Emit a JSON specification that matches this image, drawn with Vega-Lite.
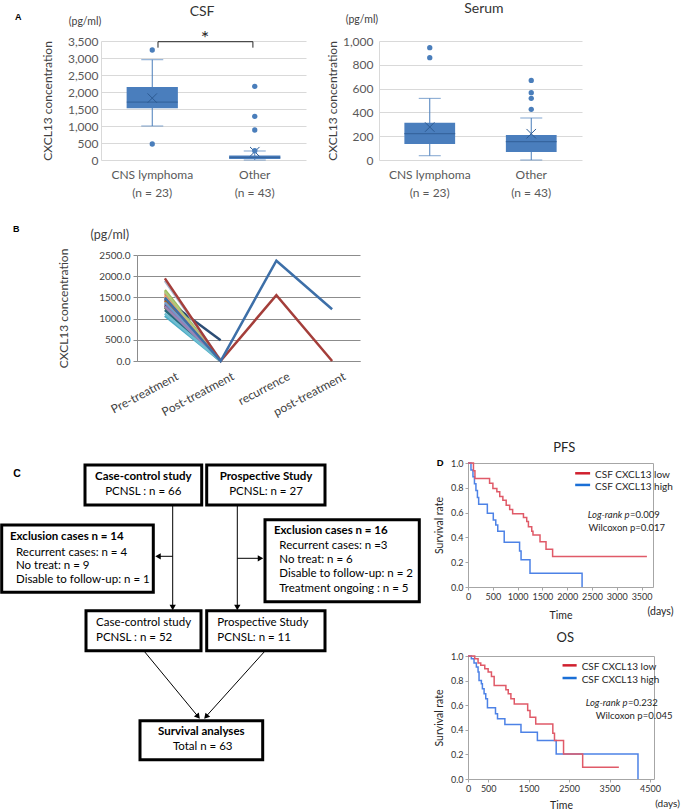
{
  "$schema": "https://vega.github.io/schema/vega-lite/v6.json",
  "padding": {"left": 0, "top": 1, "right": 0, "bottom": 0},
  "config": {
    "view": {"stroke": null},
    "font": "Lato",
    "axis": {"labelFont": "Lato", "titleFont": "Lato", "titleFontWeight": "normal"}
  },
  "datasets": {
    "csf_stats": [
      {"group": "CNS lymphoma", "lo": 1000, "q1": 1520, "median": 1700, "q3": 2150, "hi": 2950, "mean": 1820},
      {"group": "Other", "lo": 0, "q1": 30, "median": 80, "q3": 130, "hi": 265, "mean": 245}
    ],
    "csf_out": [
      {"group": "CNS lymphoma", "value": 3235},
      {"group": "CNS lymphoma", "value": 470},
      {"group": "Other", "value": 2167},
      {"group": "Other", "value": 1284},
      {"group": "Other", "value": 882},
      {"group": "Other", "value": 275}
    ],
    "serum_stats": [
      {"group": "CNS lymphoma", "lo": 36, "q1": 134, "median": 221, "q3": 314, "hi": 518, "mean": 277},
      {"group": "Other", "lo": 0, "q1": 67, "median": 154, "q3": 210, "hi": 353, "mean": 221}
    ],
    "serum_out": [
      {"group": "CNS lymphoma", "value": 944},
      {"group": "CNS lymphoma", "value": 860},
      {"group": "Other", "value": 669},
      {"group": "Other", "value": 566},
      {"group": "Other", "value": 518},
      {"group": "Other", "value": 426}
    ],
    "course": [
      {"patient": "P03", "time": "Pre-treatment", "value": 1672}, {"patient": "P03", "time": "Post-treatment", "value": 10},
      {"patient": "P04", "time": "Pre-treatment", "value": 1459}, {"patient": "P04", "time": "Post-treatment", "value": 5},
      {"patient": "P05", "time": "Pre-treatment", "value": 1065}, {"patient": "P05", "time": "Post-treatment", "value": 0},
      {"patient": "P06", "time": "Pre-treatment", "value": 1553}, {"patient": "P06", "time": "Post-treatment", "value": 15},
      {"patient": "P07", "time": "Pre-treatment", "value": 1460}, {"patient": "P07", "time": "Post-treatment", "value": 490},
      {"patient": "P08", "time": "Pre-treatment", "value": 1300}, {"patient": "P08", "time": "Post-treatment", "value": 5},
      {"patient": "P09", "time": "Pre-treatment", "value": 1262}, {"patient": "P09", "time": "Post-treatment", "value": 0},
      {"patient": "P10", "time": "Pre-treatment", "value": 1341}, {"patient": "P10", "time": "Post-treatment", "value": 10},
      {"patient": "P11", "time": "Pre-treatment", "value": 1200}, {"patient": "P11", "time": "Post-treatment", "value": 0},
      {"patient": "P12", "time": "Pre-treatment", "value": 1420}, {"patient": "P12", "time": "Post-treatment", "value": 20},
      {"patient": "P13", "time": "Pre-treatment", "value": 1380}, {"patient": "P13", "time": "Post-treatment", "value": 5},
      {"patient": "P14", "time": "Pre-treatment", "value": 1600}, {"patient": "P14", "time": "Post-treatment", "value": 10},
      {"patient": "P15", "time": "Pre-treatment", "value": 1632}, {"patient": "P15", "time": "Post-treatment", "value": 0},
      {"patient": "P16", "time": "Pre-treatment", "value": 1285}, {"patient": "P16", "time": "Post-treatment", "value": 15},
      {"patient": "P17", "time": "Pre-treatment", "value": 1120}, {"patient": "P17", "time": "Post-treatment", "value": 0},
      {"patient": "P18", "time": "Pre-treatment", "value": 1522}, {"patient": "P18", "time": "Post-treatment", "value": 5},
      {"patient": "P19", "time": "Pre-treatment", "value": 1890}, {"patient": "P19", "time": "Post-treatment", "value": 20},
      {"patient": "P02", "time": "Pre-treatment", "value": 1948}, {"patient": "P02", "time": "Post-treatment", "value": 0},
      {"patient": "P02", "time": "recurrence", "value": 1554}, {"patient": "P02", "time": "post-treatment", "value": 0},
      {"patient": "P01", "time": "Pre-treatment", "value": 1498}, {"patient": "P01", "time": "Post-treatment", "value": 0},
      {"patient": "P01", "time": "recurrence", "value": 2366}, {"patient": "P01", "time": "post-treatment", "value": 1222}
    ],
    "flow_boxes": [
      {"x1": 85, "x2": 201.7, "y1": 466, "y2": 506},
      {"x1": 206.7, "x2": 325, "y1": 466, "y2": 506},
      {"x1": 1.7, "x2": 153.3, "y1": 526, "y2": 593.3},
      {"x1": 265, "x2": 419.3, "y1": 520.7, "y2": 602.7},
      {"x1": 86, "x2": 201, "y1": 611.7, "y2": 651.7},
      {"x1": 206.7, "x2": 325, "y1": 611.7, "y2": 651.7},
      {"x1": 140, "x2": 262.7, "y1": 721.7, "y2": 760.7}
    ],
    "flow_lines": [
      {"x": 172.7, "y": 506, "x2": 172.7, "y2": 608},
      {"x": 237.3, "y": 506, "x2": 237.3, "y2": 608},
      {"x": 172.7, "y": 557.3, "x2": 158, "y2": 557.3},
      {"x": 237.3, "y": 559.3, "x2": 260, "y2": 559.3},
      {"x": 144, "y": 652, "x2": 198, "y2": 717.5},
      {"x": 265, "y": 652, "x2": 206, "y2": 717.5}
    ],
    "flow_heads": [
      {"x": 172.7, "y": 608.5, "tilt": 0},
      {"x": 237.3, "y": 608.5, "tilt": 0},
      {"x": 158, "y": 557.3, "tilt": 90},
      {"x": 260.5, "y": 559.3, "tilt": 270},
      {"x": 198.1, "y": 717.7, "tilt": 320.4},
      {"x": 206, "y": 717.8, "tilt": 41.9}
    ],
    "flow_bold_c": [
      {"x": 143.3, "y": 478.3, "t": "Case-control study"},
      {"x": 266, "y": 478.3, "t": "Prospective Study"},
      {"x": 201.3, "y": 733.3, "t": "Survival analyses"}
    ],
    "flow_reg_c": [
      {"x": 143.3, "y": 492.7, "t": "PCNSL : n = 66"},
      {"x": 266, "y": 492.7, "t": "PCNSL: n = 27"},
      {"x": 202.7, "y": 748.3, "t": "Total  n = 63"}
    ],
    "flow_bold_l": [
      {"x": 10, "y": 537.7, "t": "Exclusion cases  n = 14"},
      {"x": 274, "y": 532.3, "t": "Exclusion cases  n = 16"}
    ],
    "flow_reg_l": [
      {"x": 16, "y": 554, "t": "Recurrent cases: n = 4"},
      {"x": 16, "y": 566.7, "t": "No treat: n = 9"},
      {"x": 16, "y": 580.7, "t": "Disable to follow-up: n = 1"},
      {"x": 279.3, "y": 546.7, "t": "Recurrent cases: n =3"},
      {"x": 279.3, "y": 561, "t": "No treat: n = 6"},
      {"x": 279.3, "y": 575, "t": "Disable to follow-up: n = 2"},
      {"x": 279.3, "y": 590, "t": "Treatment ongoing : n = 5"},
      {"x": 96, "y": 624, "t": "Case-control study"},
      {"x": 96, "y": 639, "t": "PCNSL : n = 52"},
      {"x": 217.3, "y": 624, "t": "Prospective Study"},
      {"x": 217.3, "y": 639, "t": "PCNSL:  n = 11"}
    ],
    "pfs_high": [
      {"group": "CSF CXCL13 high", "days": 0, "surv": 1.0},
      {"group": "CSF CXCL13 high", "days": 60, "surv": 0.944},
      {"group": "CSF CXCL13 high", "days": 100, "surv": 0.889},
      {"group": "CSF CXCL13 high", "days": 130, "surv": 0.833},
      {"group": "CSF CXCL13 high", "days": 160, "surv": 0.778},
      {"group": "CSF CXCL13 high", "days": 190, "surv": 0.722},
      {"group": "CSF CXCL13 high", "days": 215, "surv": 0.667},
      {"group": "CSF CXCL13 high", "days": 390, "surv": 0.595},
      {"group": "CSF CXCL13 high", "days": 510, "surv": 0.54},
      {"group": "CSF CXCL13 high", "days": 560, "surv": 0.5},
      {"group": "CSF CXCL13 high", "days": 600, "surv": 0.45},
      {"group": "CSF CXCL13 high", "days": 730, "surv": 0.36},
      {"group": "CSF CXCL13 high", "days": 1040, "surv": 0.29},
      {"group": "CSF CXCL13 high", "days": 1070, "surv": 0.22},
      {"group": "CSF CXCL13 high", "days": 1250, "surv": 0.11},
      {"group": "CSF CXCL13 high", "days": 2300, "surv": 0.0}
    ],
    "pfs_low": [
      {"group": "CSF CXCL13 low", "days": 0, "surv": 1.0},
      {"group": "CSF CXCL13 low", "days": 110, "surv": 0.938},
      {"group": "CSF CXCL13 low", "days": 140, "surv": 0.876},
      {"group": "CSF CXCL13 low", "days": 435, "surv": 0.836},
      {"group": "CSF CXCL13 low", "days": 502, "surv": 0.795},
      {"group": "CSF CXCL13 low", "days": 582, "surv": 0.768},
      {"group": "CSF CXCL13 low", "days": 640, "surv": 0.73},
      {"group": "CSF CXCL13 low", "days": 703, "surv": 0.7},
      {"group": "CSF CXCL13 low", "days": 770, "surv": 0.66},
      {"group": "CSF CXCL13 low", "days": 840, "surv": 0.625},
      {"group": "CSF CXCL13 low", "days": 900, "surv": 0.59},
      {"group": "CSF CXCL13 low", "days": 1118, "surv": 0.56},
      {"group": "CSF CXCL13 low", "days": 1184, "surv": 0.528},
      {"group": "CSF CXCL13 low", "days": 1218, "surv": 0.485},
      {"group": "CSF CXCL13 low", "days": 1285, "surv": 0.45},
      {"group": "CSF CXCL13 low", "days": 1310, "surv": 0.42},
      {"group": "CSF CXCL13 low", "days": 1452, "surv": 0.364},
      {"group": "CSF CXCL13 low", "days": 1573, "surv": 0.305},
      {"group": "CSF CXCL13 low", "days": 1706, "surv": 0.245},
      {"group": "CSF CXCL13 low", "days": 3607, "surv": 0.245}
    ],
    "os_high": [
      {"group": "CSF CXCL13 high", "days": 0, "surv": 1.0},
      {"group": "CSF CXCL13 high", "days": 83, "surv": 0.978},
      {"group": "CSF CXCL13 high", "days": 149, "surv": 0.943},
      {"group": "CSF CXCL13 high", "days": 207, "surv": 0.91},
      {"group": "CSF CXCL13 high", "days": 249, "surv": 0.87},
      {"group": "CSF CXCL13 high", "days": 273, "surv": 0.8},
      {"group": "CSF CXCL13 high", "days": 331, "surv": 0.774},
      {"group": "CSF CXCL13 high", "days": 356, "surv": 0.734},
      {"group": "CSF CXCL13 high", "days": 398, "surv": 0.693},
      {"group": "CSF CXCL13 high", "days": 439, "surv": 0.652},
      {"group": "CSF CXCL13 high", "days": 481, "surv": 0.579},
      {"group": "CSF CXCL13 high", "days": 680, "surv": 0.53},
      {"group": "CSF CXCL13 high", "days": 730, "surv": 0.49},
      {"group": "CSF CXCL13 high", "days": 912, "surv": 0.443},
      {"group": "CSF CXCL13 high", "days": 1310, "surv": 0.38},
      {"group": "CSF CXCL13 high", "days": 1716, "surv": 0.3125},
      {"group": "CSF CXCL13 high", "days": 2181, "surv": 0.204},
      {"group": "CSF CXCL13 high", "days": 4204, "surv": 0.0}
    ],
    "os_low": [
      {"group": "CSF CXCL13 low", "days": 0, "surv": 1.0},
      {"group": "CSF CXCL13 low", "days": 166, "surv": 0.978},
      {"group": "CSF CXCL13 low", "days": 249, "surv": 0.943},
      {"group": "CSF CXCL13 low", "days": 315, "surv": 0.924},
      {"group": "CSF CXCL13 low", "days": 415, "surv": 0.897},
      {"group": "CSF CXCL13 low", "days": 498, "surv": 0.87},
      {"group": "CSF CXCL13 low", "days": 580, "surv": 0.834},
      {"group": "CSF CXCL13 low", "days": 647, "surv": 0.76},
      {"group": "CSF CXCL13 low", "days": 937, "surv": 0.726},
      {"group": "CSF CXCL13 low", "days": 995, "surv": 0.693},
      {"group": "CSF CXCL13 low", "days": 1061, "surv": 0.652},
      {"group": "CSF CXCL13 low", "days": 1144, "surv": 0.61},
      {"group": "CSF CXCL13 low", "days": 1476, "surv": 0.557},
      {"group": "CSF CXCL13 low", "days": 1534, "surv": 0.503},
      {"group": "CSF CXCL13 low", "days": 1675, "surv": 0.448},
      {"group": "CSF CXCL13 low", "days": 2098, "surv": 0.372},
      {"group": "CSF CXCL13 low", "days": 2139, "surv": 0.3125},
      {"group": "CSF CXCL13 low", "days": 2363, "surv": 0.204},
      {"group": "CSF CXCL13 low", "days": 2836, "surv": 0.095},
      {"group": "CSF CXCL13 low", "days": 3731, "surv": 0.095}
    ]
  },
  "vconcat": [
    {
      "vconcat": [
        {
          "hconcat": [
            {"width": 1, "height": 1, "data": {"values": [{}]}, "mark": {"type": "point", "opacity": 0, "size": 0, "strokeWidth": 0}},
            {
              "hconcat": [
                {
                  "width": 205, "height": 119,
                  "resolve": {"scale": {"x": "independent", "y": "independent"}},
                  "layer": [
                    {"data": {"name": "csf_stats"}, "mark": {"type": "rule", "color": "#4a7ebb", "strokeWidth": 1},
                     "encoding": {
                       "x": {"field": "group", "type": "nominal", "scale": {"domain": ["CNS lymphoma", "Other"], "paddingInner": 0, "paddingOuter": 0},
                         "axis": {"title": null, "domain": false, "ticks": false, "labelAngle": 0, "labelFontSize": 12, "labelColor": "#595959", "labelPadding": 9, "labelLineHeight": 18,
                           "labelExpr": "datum.value == 'CNS lymphoma' ? ['CNS lymphoma', '(n = 23)'] : ['Other', '(n = 43)']"}},
                       "y": {"field": "lo", "type": "quantitative", "scale": {"domain": [0, 3500], "nice": false},
                         "axis": {"title": "CXCL13 concentration", "titleFontSize": 12, "titleColor": "#404040", "titlePadding": 13, "values": [0, 500, 1000, 1500, 2000, 2500, 3000, 3500], "format": ",.0f", "labelFontSize": 12, "labelColor": "#595959", "labelPadding": 3, "ticks": false, "domain": true, "domainColor": "#d9d9d9", "grid": true, "gridColor": "#d9d9d9"}},
                       "y2": {"field": "hi"}}},
                    {"data": {"name": "csf_stats"}, "mark": {"type": "tick", "orient": "horizontal", "size": 22, "thickness": 1, "color": "#4a7ebb"},
                     "encoding": {
                       "x": {"field": "group", "type": "nominal", "scale": {"domain": ["CNS lymphoma", "Other"], "paddingInner": 0, "paddingOuter": 0}, "axis": null},
                       "y": {"field": "hi", "type": "quantitative", "scale": {"domain": [0, 3500], "nice": false}, "axis": null}}},
                    {"data": {"name": "csf_stats"}, "mark": {"type": "tick", "orient": "horizontal", "size": 22, "thickness": 1, "color": "#4a7ebb"},
                     "encoding": {
                       "x": {"field": "group", "type": "nominal", "scale": {"domain": ["CNS lymphoma", "Other"], "paddingInner": 0, "paddingOuter": 0}, "axis": null},
                       "y": {"field": "lo", "type": "quantitative", "scale": {"domain": [0, 3500], "nice": false}, "axis": null}}},
                    {"data": {"name": "csf_stats"}, "mark": {"type": "bar", "width": {"band": 0.5}, "color": "#4a7ebd"},
                     "encoding": {
                       "x": {"field": "group", "type": "nominal", "scale": {"domain": ["CNS lymphoma", "Other"], "paddingInner": 0, "paddingOuter": 0}, "axis": null},
                       "y": {"field": "q1", "type": "quantitative", "scale": {"domain": [0, 3500], "nice": false}, "axis": null}, "y2": {"field": "q3"}}},
                    {"data": {"name": "csf_stats"}, "mark": {"type": "tick", "orient": "horizontal", "size": 51, "thickness": 1.2, "color": "#2d5b93"},
                     "encoding": {
                       "x": {"field": "group", "type": "nominal", "scale": {"domain": ["CNS lymphoma", "Other"], "paddingInner": 0, "paddingOuter": 0}, "axis": null},
                       "y": {"field": "median", "type": "quantitative", "scale": {"domain": [0, 3500], "nice": false}, "axis": null}}},
                    {"data": {"name": "csf_stats"}, "mark": {"type": "point", "shape": "M-1,-1L1,1M-1,1L1,-1", "filled": false, "size": 90, "color": "#2d5b93", "strokeWidth": 1, "opacity": 1},
                     "encoding": {
                       "x": {"field": "group", "type": "nominal", "scale": {"domain": ["CNS lymphoma", "Other"], "paddingInner": 0, "paddingOuter": 0}, "axis": null},
                       "y": {"field": "mean", "type": "quantitative", "scale": {"domain": [0, 3500], "nice": false}, "axis": null}}},
                    {"data": {"name": "csf_out"}, "mark": {"type": "circle", "size": 28, "color": "#4a7ebb", "opacity": 1},
                     "encoding": {
                       "x": {"field": "group", "type": "nominal", "scale": {"domain": ["CNS lymphoma", "Other"], "paddingInner": 0, "paddingOuter": 0}, "axis": null},
                       "y": {"field": "value", "type": "quantitative", "scale": {"domain": [0, 3500], "nice": false}, "axis": null}}},
                    {
                      "data": {"values": [{}]},
                      "layer": [
                        {"mark": {"type": "text", "text": "A", "font": "Liberation Sans", "fontWeight": "bold", "fontSize": 9, "align": "left", "baseline": "middle", "color": "#000000"},
                         "encoding": {"x": {"datum": -0.42, "type": "quantitative", "scale": {"domain": [0, 1]}, "axis": null}, "y": {"datum": 1.202, "type": "quantitative", "scale": {"domain": [0, 1]}, "axis": null}}},
                        {"mark": {"type": "text", "text": "(pg/ml)", "fontSize": 10.5, "align": "center", "baseline": "middle", "color": "#404040"},
                         "encoding": {"x": {"datum": -0.078, "type": "quantitative", "scale": {"domain": [0, 1]}, "axis": null}, "y": {"datum": 1.16, "type": "quantitative", "scale": {"domain": [0, 1]}, "axis": null}}},
                        {"mark": {"type": "text", "text": "CSF", "fontSize": 14, "align": "center", "baseline": "middle", "color": "#333333"},
                         "encoding": {"x": {"datum": 0.493, "type": "quantitative", "scale": {"domain": [0, 1]}, "axis": null}, "y": {"datum": 1.244, "type": "quantitative", "scale": {"domain": [0, 1]}, "axis": null}}},
                        {"mark": {"type": "text", "text": "*", "fontSize": 20, "align": "center", "baseline": "alphabetic", "color": "#262626"},
                         "encoding": {"x": {"datum": 0.507, "type": "quantitative", "scale": {"domain": [0, 1]}, "axis": null}, "y": {"datum": 0.963, "type": "quantitative", "scale": {"domain": [0, 1]}, "axis": null}}},
                        {"mark": {"type": "rule", "color": "#262626", "strokeWidth": 1},
                         "encoding": {"x": {"datum": 0.278, "type": "quantitative", "scale": {"domain": [0, 1]}, "axis": null}, "x2": {"datum": 0.741}, "y": {"datum": 0.994, "type": "quantitative", "scale": {"domain": [0, 1]}, "axis": null}}},
                        {"mark": {"type": "rule", "color": "#262626", "strokeWidth": 1},
                         "encoding": {"x": {"datum": 0.278, "type": "quantitative", "scale": {"domain": [0, 1]}, "axis": null}, "y": {"datum": 0.994, "type": "quantitative", "scale": {"domain": [0, 1]}, "axis": null}, "y2": {"datum": 0.944}}},
                        {"mark": {"type": "rule", "color": "#262626", "strokeWidth": 1},
                         "encoding": {"x": {"datum": 0.741, "type": "quantitative", "scale": {"domain": [0, 1]}, "axis": null}, "y": {"datum": 0.994, "type": "quantitative", "scale": {"domain": [0, 1]}, "axis": null}, "y2": {"datum": 0.944}}}
                      ]
                    }
                  ]
                },
                {
                  "width": 203, "height": 119,
                  "resolve": {"scale": {"x": "independent", "y": "independent"}},
                  "layer": [
                    {"data": {"name": "serum_stats"}, "mark": {"type": "rule", "color": "#4a7ebb", "strokeWidth": 1},
                     "encoding": {
                       "x": {"field": "group", "type": "nominal", "scale": {"domain": ["CNS lymphoma", "Other"], "paddingInner": 0, "paddingOuter": 0},
                         "axis": {"title": null, "domain": false, "ticks": false, "labelAngle": 0, "labelFontSize": 12, "labelColor": "#595959", "labelPadding": 9, "labelLineHeight": 18,
                           "labelExpr": "datum.value == 'CNS lymphoma' ? ['CNS lymphoma', '(n = 23)'] : ['Other', '(n = 43)']"}},
                       "y": {"field": "lo", "type": "quantitative", "scale": {"domain": [0, 1000], "nice": false},
                         "axis": {"title": "CXCL13 concentration", "titleFontSize": 12, "titleColor": "#404040", "titlePadding": 3, "values": [0, 200, 400, 600, 800, 1000], "format": ",.0f", "labelFontSize": 12, "labelColor": "#595959", "labelPadding": 6, "ticks": false, "domain": true, "domainColor": "#d9d9d9", "grid": true, "gridColor": "#d9d9d9"}},
                       "y2": {"field": "hi"}}},
                    {"data": {"name": "serum_stats"}, "mark": {"type": "tick", "orient": "horizontal", "size": 22, "thickness": 1, "color": "#4a7ebb"},
                     "encoding": {
                       "x": {"field": "group", "type": "nominal", "scale": {"domain": ["CNS lymphoma", "Other"], "paddingInner": 0, "paddingOuter": 0}, "axis": null},
                       "y": {"field": "hi", "type": "quantitative", "scale": {"domain": [0, 1000], "nice": false}, "axis": null}}},
                    {"data": {"name": "serum_stats"}, "mark": {"type": "tick", "orient": "horizontal", "size": 22, "thickness": 1, "color": "#4a7ebb"},
                     "encoding": {
                       "x": {"field": "group", "type": "nominal", "scale": {"domain": ["CNS lymphoma", "Other"], "paddingInner": 0, "paddingOuter": 0}, "axis": null},
                       "y": {"field": "lo", "type": "quantitative", "scale": {"domain": [0, 1000], "nice": false}, "axis": null}}},
                    {"data": {"name": "serum_stats"}, "mark": {"type": "bar", "width": {"band": 0.5}, "color": "#4a7ebd"},
                     "encoding": {
                       "x": {"field": "group", "type": "nominal", "scale": {"domain": ["CNS lymphoma", "Other"], "paddingInner": 0, "paddingOuter": 0}, "axis": null},
                       "y": {"field": "q1", "type": "quantitative", "scale": {"domain": [0, 1000], "nice": false}, "axis": null}, "y2": {"field": "q3"}}},
                    {"data": {"name": "serum_stats"}, "mark": {"type": "tick", "orient": "horizontal", "size": 51, "thickness": 1.2, "color": "#2d5b93"},
                     "encoding": {
                       "x": {"field": "group", "type": "nominal", "scale": {"domain": ["CNS lymphoma", "Other"], "paddingInner": 0, "paddingOuter": 0}, "axis": null},
                       "y": {"field": "median", "type": "quantitative", "scale": {"domain": [0, 1000], "nice": false}, "axis": null}}},
                    {"data": {"name": "serum_stats"}, "mark": {"type": "point", "shape": "M-1,-1L1,1M-1,1L1,-1", "filled": false, "size": 90, "color": "#2d5b93", "strokeWidth": 1, "opacity": 1},
                     "encoding": {
                       "x": {"field": "group", "type": "nominal", "scale": {"domain": ["CNS lymphoma", "Other"], "paddingInner": 0, "paddingOuter": 0}, "axis": null},
                       "y": {"field": "mean", "type": "quantitative", "scale": {"domain": [0, 1000], "nice": false}, "axis": null}}},
                    {"data": {"name": "serum_out"}, "mark": {"type": "circle", "size": 28, "color": "#4a7ebb", "opacity": 1},
                     "encoding": {
                       "x": {"field": "group", "type": "nominal", "scale": {"domain": ["CNS lymphoma", "Other"], "paddingInner": 0, "paddingOuter": 0}, "axis": null},
                       "y": {"field": "value", "type": "quantitative", "scale": {"domain": [0, 1000], "nice": false}, "axis": null}}},
                    {
                      "data": {"values": [{}]},
                      "layer": [
                        {"mark": {"type": "text", "text": "(pg/ml)", "fontSize": 10.5, "align": "center", "baseline": "middle", "color": "#404040"},
                         "encoding": {"x": {"datum": -0.084, "type": "quantitative", "scale": {"domain": [0, 1]}, "axis": null}, "y": {"datum": 1.176, "type": "quantitative", "scale": {"domain": [0, 1]}, "axis": null}}},
                        {"mark": {"type": "text", "text": "Serum", "fontSize": 14, "align": "center", "baseline": "middle", "color": "#333333"},
                         "encoding": {"x": {"datum": 0.517, "type": "quantitative", "scale": {"domain": [0, 1]}, "axis": null}, "y": {"datum": 1.269, "type": "quantitative", "scale": {"domain": [0, 1]}, "axis": null}}}
                      ]
                    }
                  ]
                }
              ],
              "spacing": 20
            }
          ],
          "spacing": 13
        },
        {
          "hconcat": [
            {"width": 1, "height": 1, "data": {"values": [{}]}, "mark": {"type": "point", "opacity": 0, "size": 0, "strokeWidth": 0}},
            {
              "width": 223, "height": 106,
              "resolve": {"scale": {"x": "independent", "y": "independent"}},
              "layer": [
                {
                  "data": {"name": "course"},
                  "mark": {"type": "line", "strokeWidth": 2.5},
                  "encoding": {
                    "x": {"field": "time", "type": "ordinal", "scale": {"type": "point", "padding": 0.5, "domain": ["Pre-treatment", "Post-treatment", "recurrence", "post-treatment"]},
                      "axis": {"title": null, "labelAngle": -28, "labelAlign": "right", "labelBaseline": "middle", "labelOffset": 12, "labelPadding": 14, "labelFontSize": 12, "labelColor": "#404040", "ticks": false, "domain": true, "domainColor": "#8c8c8c"}},
                    "y": {"field": "value", "type": "quantitative", "scale": {"domain": [0, 2500], "nice": false},
                      "axis": {"title": "CXCL13 concentration", "titleFontSize": 12, "titleColor": "#404040", "titlePadding": 28, "values": [0, 500, 1000, 1500, 2000, 2500], "format": ".1f", "labelFontSize": 10, "labelColor": "#404040", "labelPadding": 3, "tickSize": 4, "tickColor": "#8c8c8c", "domainColor": "#8c8c8c", "grid": true, "gridColor": "#8c8c8c"}},
                    "color": {"field": "patient", "type": "nominal",
                      "scale": {"domain": ["P01", "P02", "P03", "P04", "P05", "P06", "P07", "P08", "P09", "P10", "P11", "P12", "P13", "P14", "P15", "P16", "P17", "P18", "P19"],
                        "range": ["#3d6fa8", "#a43e3a", "#9bbb59", "#8064a2", "#4bacc6", "#f79646", "#2c4d75", "#772c2a", "#5f7530", "#4d3b62", "#276a7c", "#b65708", "#729aca", "#cd7371", "#afc97a", "#9983b5", "#6fbdd1", "#f9ab6b", "#a9b8d0"]},
                      "legend": null},
                    "order": {"value": null}
                  }
                },
                {
                  "data": {"values": [{}]},
                  "layer": [
                    {"mark": {"type": "text", "text": "B", "font": "Liberation Sans", "fontWeight": "bold", "fontSize": 9, "align": "left", "baseline": "middle", "color": "#000000"},
                     "encoding": {"x": {"datum": -0.556, "type": "quantitative", "scale": {"domain": [0, 1]}, "axis": null}, "y": {"datum": 1.245, "type": "quantitative", "scale": {"domain": [0, 1]}, "axis": null}}},
                    {"mark": {"type": "text", "text": "(pg/ml)", "fontSize": 12.5, "align": "center", "baseline": "middle", "color": "#404040"},
                     "encoding": {"x": {"datum": -0.122, "type": "quantitative", "scale": {"domain": [0, 1]}, "axis": null}, "y": {"datum": 1.187, "type": "quantitative", "scale": {"domain": [0, 1]}, "axis": null}}}
                  ]
                }
              ]
            }
          ],
          "spacing": 12
        }
      ],
      "spacing": 27
    },
    {
      "hconcat": [
        {
          "width": 420, "height": 310,
          "resolve": {"scale": {"x": "independent", "y": "independent"}},
          "layer": [
            {"data": {"name": "flow_boxes"}, "mark": {"type": "rect", "fill": "white", "stroke": "black", "strokeWidth": 3},
             "encoding": {"x": {"field": "x1", "type": "quantitative", "scale": {"domain": [0, 420], "nice": false, "zero": false}, "axis": null}, "x2": {"field": "x2"},
               "y": {"field": "y1", "type": "quantitative", "scale": {"domain": [464, 774], "reverse": true, "nice": false, "zero": false}, "axis": null}, "y2": {"field": "y2"}}},
            {"data": {"name": "flow_lines"}, "mark": {"type": "rule", "color": "black", "strokeWidth": 1},
             "encoding": {"x": {"field": "x", "type": "quantitative", "scale": {"domain": [0, 420], "nice": false, "zero": false}, "axis": null}, "x2": {"field": "x2"},
               "y": {"field": "y", "type": "quantitative", "scale": {"domain": [464, 774], "reverse": true, "nice": false, "zero": false}, "axis": null}, "y2": {"field": "y2"}}},
            {"data": {"name": "flow_heads"}, "mark": {"type": "point", "shape": "triangle-down", "filled": true, "size": 40, "color": "black", "opacity": 1},
             "encoding": {"x": {"field": "x", "type": "quantitative", "scale": {"domain": [0, 420], "nice": false, "zero": false}, "axis": null},
               "y": {"field": "y", "type": "quantitative", "scale": {"domain": [464, 774], "reverse": true, "nice": false, "zero": false}, "axis": null},
               "angle": {"field": "tilt", "type": "quantitative", "scale": null}}},
            {"data": {"name": "flow_bold_c"}, "mark": {"type": "text", "fontSize": 11.5, "fontWeight": "bold", "align": "center", "baseline": "middle", "color": "black"},
             "encoding": {"x": {"field": "x", "type": "quantitative", "scale": {"domain": [0, 420], "nice": false, "zero": false}, "axis": null},
               "y": {"field": "y", "type": "quantitative", "scale": {"domain": [464, 774], "reverse": true, "nice": false, "zero": false}, "axis": null}, "text": {"field": "t"}}},
            {"data": {"name": "flow_reg_c"}, "mark": {"type": "text", "fontSize": 11.5, "align": "center", "baseline": "middle", "color": "black"},
             "encoding": {"x": {"field": "x", "type": "quantitative", "scale": {"domain": [0, 420], "nice": false, "zero": false}, "axis": null},
               "y": {"field": "y", "type": "quantitative", "scale": {"domain": [464, 774], "reverse": true, "nice": false, "zero": false}, "axis": null}, "text": {"field": "t"}}},
            {"data": {"name": "flow_bold_l"}, "mark": {"type": "text", "fontSize": 11.5, "fontWeight": "bold", "align": "left", "baseline": "middle", "color": "black"},
             "encoding": {"x": {"field": "x", "type": "quantitative", "scale": {"domain": [0, 420], "nice": false, "zero": false}, "axis": null},
               "y": {"field": "y", "type": "quantitative", "scale": {"domain": [464, 774], "reverse": true, "nice": false, "zero": false}, "axis": null}, "text": {"field": "t"}}},
            {"data": {"name": "flow_reg_l"}, "mark": {"type": "text", "fontSize": 11.5, "align": "left", "baseline": "middle", "color": "black"},
             "encoding": {"x": {"field": "x", "type": "quantitative", "scale": {"domain": [0, 420], "nice": false, "zero": false}, "axis": null},
               "y": {"field": "y", "type": "quantitative", "scale": {"domain": [464, 774], "reverse": true, "nice": false, "zero": false}, "axis": null}, "text": {"field": "t"}}},
            {"data": {"values": [{}]}, "mark": {"type": "text", "text": "C", "font": "Liberation Sans", "fontWeight": "bold", "fontSize": 10.5, "align": "left", "baseline": "middle", "color": "black"},
             "encoding": {"x": {"datum": 13.3, "type": "quantitative", "scale": {"domain": [0, 420], "nice": false, "zero": false}, "axis": null},
               "y": {"datum": 475, "type": "quantitative", "scale": {"domain": [464, 774], "reverse": true, "nice": false, "zero": false}, "axis": null}}}
          ]
        },
        {
          "vconcat": [
            {
              "width": 185, "height": 124,
              "view": {"stroke": "#a6a6a6"},
              "resolve": {"scale": {"x": "independent", "y": "independent"}},
              "layer": [
                {"data": {"name": "pfs_high"}, "mark": {"type": "line", "interpolate": "step-after", "strokeWidth": 1.5, "color": "#4d82e6"},
                 "encoding": {
                   "x": {"field": "days", "type": "quantitative", "scale": {"domain": [0, 3730], "nice": false},
                     "axis": {"values": [0, 500, 1000, 1500, 2000, 2500, 3000, 3500], "format": "d", "title": "Time", "titleFontSize": 10.5, "titleColor": "#262626", "titlePadding": 9, "labelFontSize": 9, "labelColor": "#333333", "labelPadding": 2, "tickSize": 3, "tickColor": "#a6a6a6", "domain": false, "grid": false, "labelOverlap": false, "labelFlush": false}},
                   "y": {"field": "surv", "type": "quantitative", "scale": {"domain": [0, 1], "nice": false},
                     "axis": {"values": [0, 0.2, 0.4, 0.6, 0.8, 1], "format": ".1f", "title": "Survival rate", "titleFontSize": 10.5, "titleColor": "#262626", "titlePadding": 6, "labelFontSize": 9, "labelColor": "#333333", "labelPadding": 2, "tickSize": 3, "tickColor": "#a6a6a6", "domain": false, "grid": false, "labelFlush": false}}
                 }},
                {"data": {"name": "pfs_low"}, "mark": {"type": "line", "interpolate": "step-after", "strokeWidth": 1.5, "color": "#e05a68"},
                 "encoding": {
                   "x": {"field": "days", "type": "quantitative", "scale": {"domain": [0, 3730], "nice": false}, "axis": null},
                   "y": {"field": "surv", "type": "quantitative", "scale": {"domain": [0, 1], "nice": false}, "axis": null}
                 }},
                {
                  "data": {"values": [{}]},
                  "layer": [
                    {"mark": {"type": "text", "text": "PFS", "fontSize": 13, "align": "center", "baseline": "middle", "color": "#262626"},
                     "encoding": {"x": {"datum": 1940, "type": "quantitative", "scale": {"domain": [0, 3730], "nice": false}, "axis": null}, "y": {"datum": 1.121, "type": "quantitative", "scale": {"domain": [0, 1], "nice": false}, "axis": null}}},
                    {"mark": {"type": "text", "text": "D", "font": "Liberation Sans", "fontWeight": "bold", "fontSize": 9.5, "align": "left", "baseline": "middle", "color": "#000000"},
                     "encoding": {"x": {"datum": -628, "type": "quantitative", "scale": {"domain": [0, 3730], "nice": false}, "axis": null}, "y": {"datum": 1.0, "type": "quantitative", "scale": {"domain": [0, 1], "nice": false}, "axis": null}}},
                    {"mark": {"type": "rule", "color": "#d0202e", "strokeWidth": 2.5},
                     "encoding": {"x": {"datum": 2161, "type": "quantitative", "scale": {"domain": [0, 3730], "nice": false}, "axis": null}, "x2": {"datum": 2462}, "y": {"datum": 0.917, "type": "quantitative", "scale": {"domain": [0, 1], "nice": false}, "axis": null}}},
                    {"mark": {"type": "rule", "color": "#1a6fd6", "strokeWidth": 2.5},
                     "encoding": {"x": {"datum": 2161, "type": "quantitative", "scale": {"domain": [0, 3730], "nice": false}, "axis": null}, "x2": {"datum": 2462}, "y": {"datum": 0.823, "type": "quantitative", "scale": {"domain": [0, 1], "nice": false}, "axis": null}}},
                    {"mark": {"type": "text", "text": "CSF CXCL13 low", "fontSize": 10, "align": "left", "baseline": "middle", "color": "#262626"},
                     "encoding": {"x": {"datum": 2563, "type": "quantitative", "scale": {"domain": [0, 3730], "nice": false}, "axis": null}, "y": {"datum": 0.901, "type": "quantitative", "scale": {"domain": [0, 1], "nice": false}, "axis": null}}},
                    {"mark": {"type": "text", "text": "CSF CXCL13 high", "fontSize": 10, "align": "left", "baseline": "middle", "color": "#262626"},
                     "encoding": {"x": {"datum": 2563, "type": "quantitative", "scale": {"domain": [0, 3730], "nice": false}, "axis": null}, "y": {"datum": 0.806, "type": "quantitative", "scale": {"domain": [0, 1], "nice": false}, "axis": null}}},
                    {"mark": {"type": "text", "text": "Log-rank p", "fontSize": 9.5, "fontStyle": "italic", "align": "right", "baseline": "middle", "color": "#262626"},
                     "encoding": {"x": {"datum": 3255, "type": "quantitative", "scale": {"domain": [0, 3730], "nice": false}, "axis": null}, "y": {"datum": 0.578, "type": "quantitative", "scale": {"domain": [0, 1], "nice": false}, "axis": null}}},
                    {"mark": {"type": "text", "text": "=0.009", "fontSize": 9.5, "align": "left", "baseline": "middle", "color": "#262626"},
                     "encoding": {"x": {"datum": 3265, "type": "quantitative", "scale": {"domain": [0, 3730], "nice": false}, "axis": null}, "y": {"datum": 0.578, "type": "quantitative", "scale": {"domain": [0, 1], "nice": false}, "axis": null}}},
                    {"mark": {"type": "text", "text": "Wilcoxon p=0.017", "fontSize": 9.5, "align": "left", "baseline": "middle", "color": "#262626"},
                     "encoding": {"x": {"datum": 2428, "type": "quantitative", "scale": {"domain": [0, 3730], "nice": false}, "axis": null}, "y": {"datum": 0.478, "type": "quantitative", "scale": {"domain": [0, 1], "nice": false}, "axis": null}}},
                    {"mark": {"type": "text", "text": "(days)", "fontSize": 10.5, "align": "left", "baseline": "middle", "color": "#262626"},
                     "encoding": {"x": {"datum": 3620, "type": "quantitative", "scale": {"domain": [0, 3730], "nice": false}, "axis": null}, "y": {"datum": -0.202, "type": "quantitative", "scale": {"domain": [0, 1], "nice": false}, "axis": null}}}
                  ]
                }
              ]
            },
            {
              "width": 186, "height": 123,
              "view": {"stroke": "#a6a6a6"},
              "resolve": {"scale": {"x": "independent", "y": "independent"}},
              "layer": [
                {"data": {"name": "os_high"}, "mark": {"type": "line", "interpolate": "step-after", "strokeWidth": 1.5, "color": "#4d82e6"},
                 "encoding": {
                   "x": {"field": "days", "type": "quantitative", "scale": {"domain": [0, 4600], "nice": false},
                     "axis": {"values": [0, 500, 1500, 2500, 3500, 4500], "format": "d", "title": "Time", "titleFontSize": 10.5, "titleColor": "#262626", "titlePadding": 7, "labelFontSize": 9, "labelColor": "#333333", "labelPadding": 2, "tickSize": 3, "tickColor": "#a6a6a6", "domain": false, "grid": false, "labelOverlap": false, "labelFlush": false}},
                   "y": {"field": "surv", "type": "quantitative", "scale": {"domain": [0, 1], "nice": false},
                     "axis": {"values": [0, 0.2, 0.4, 0.6, 0.8, 1], "format": ".1f", "title": "Survival rate", "titleFontSize": 10.5, "titleColor": "#262626", "titlePadding": 6, "labelFontSize": 9, "labelColor": "#333333", "labelPadding": 2, "tickSize": 3, "tickColor": "#a6a6a6", "domain": false, "grid": false, "labelFlush": false}}
                 }},
                {"data": {"name": "os_low"}, "mark": {"type": "line", "interpolate": "step-after", "strokeWidth": 1.5, "color": "#e05a68"},
                 "encoding": {
                   "x": {"field": "days", "type": "quantitative", "scale": {"domain": [0, 4600], "nice": false}, "axis": null},
                   "y": {"field": "surv", "type": "quantitative", "scale": {"domain": [0, 1], "nice": false}, "axis": null}
                 }},
                {
                  "data": {"values": [{}]},
                  "layer": [
                    {"mark": {"type": "text", "text": "OS", "fontSize": 13, "align": "center", "baseline": "middle", "color": "#262626"},
                     "encoding": {"x": {"datum": 2405, "type": "quantitative", "scale": {"domain": [0, 4600], "nice": false}, "axis": null}, "y": {"datum": 1.146, "type": "quantitative", "scale": {"domain": [0, 1], "nice": false}, "axis": null}}},
                    {"mark": {"type": "rule", "color": "#d0202e", "strokeWidth": 2.5},
                     "encoding": {"x": {"datum": 2338, "type": "quantitative", "scale": {"domain": [0, 4600], "nice": false}, "axis": null}, "x2": {"datum": 2687}, "y": {"datum": 0.924, "type": "quantitative", "scale": {"domain": [0, 1], "nice": false}, "axis": null}}},
                    {"mark": {"type": "rule", "color": "#1a6fd6", "strokeWidth": 2.5},
                     "encoding": {"x": {"datum": 2338, "type": "quantitative", "scale": {"domain": [0, 4600], "nice": false}, "axis": null}, "x2": {"datum": 2687}, "y": {"datum": 0.821, "type": "quantitative", "scale": {"domain": [0, 1], "nice": false}, "axis": null}}},
                    {"mark": {"type": "text", "text": "CSF CXCL13 low", "fontSize": 10, "align": "left", "baseline": "middle", "color": "#262626"},
                     "encoding": {"x": {"datum": 2811, "type": "quantitative", "scale": {"domain": [0, 4600], "nice": false}, "axis": null}, "y": {"datum": 0.908, "type": "quantitative", "scale": {"domain": [0, 1], "nice": false}, "axis": null}}},
                    {"mark": {"type": "text", "text": "CSF CXCL13 high", "fontSize": 10, "align": "left", "baseline": "middle", "color": "#262626"},
                     "encoding": {"x": {"datum": 2811, "type": "quantitative", "scale": {"domain": [0, 4600], "nice": false}, "axis": null}, "y": {"datum": 0.802, "type": "quantitative", "scale": {"domain": [0, 1], "nice": false}, "axis": null}}},
                    {"mark": {"type": "text", "text": "Log-rank p", "fontSize": 9.5, "fontStyle": "italic", "align": "right", "baseline": "middle", "color": "#262626"},
                     "encoding": {"x": {"datum": 3943, "type": "quantitative", "scale": {"domain": [0, 4600], "nice": false}, "axis": null}, "y": {"datum": 0.615, "type": "quantitative", "scale": {"domain": [0, 1], "nice": false}, "axis": null}}},
                    {"mark": {"type": "text", "text": "=0.232", "fontSize": 9.5, "align": "left", "baseline": "middle", "color": "#262626"},
                     "encoding": {"x": {"datum": 3955, "type": "quantitative", "scale": {"domain": [0, 4600], "nice": false}, "axis": null}, "y": {"datum": 0.615, "type": "quantitative", "scale": {"domain": [0, 1], "nice": false}, "axis": null}}},
                    {"mark": {"type": "text", "text": "Wilcoxon p=0.045", "fontSize": 9.5, "align": "left", "baseline": "middle", "color": "#262626"},
                     "encoding": {"x": {"datum": 3159, "type": "quantitative", "scale": {"domain": [0, 4600], "nice": false}, "axis": null}, "y": {"datum": 0.51, "type": "quantitative", "scale": {"domain": [0, 1], "nice": false}, "axis": null}}},
                    {"mark": {"type": "text", "text": "(days)", "fontSize": 10, "align": "left", "baseline": "middle", "color": "#262626"},
                     "encoding": {"x": {"datum": 4630, "type": "quantitative", "scale": {"domain": [0, 4600], "nice": false}, "axis": null}, "y": {"datum": -0.2, "type": "quantitative", "scale": {"domain": [0, 1], "nice": false}, "axis": null}}}
                  ]
                }
              ]
            }
          ],
          "spacing": 69,
          "bounds": "flush"
        }
      ],
      "spacing": 12
    }
  ],
  "spacing": 23
}
